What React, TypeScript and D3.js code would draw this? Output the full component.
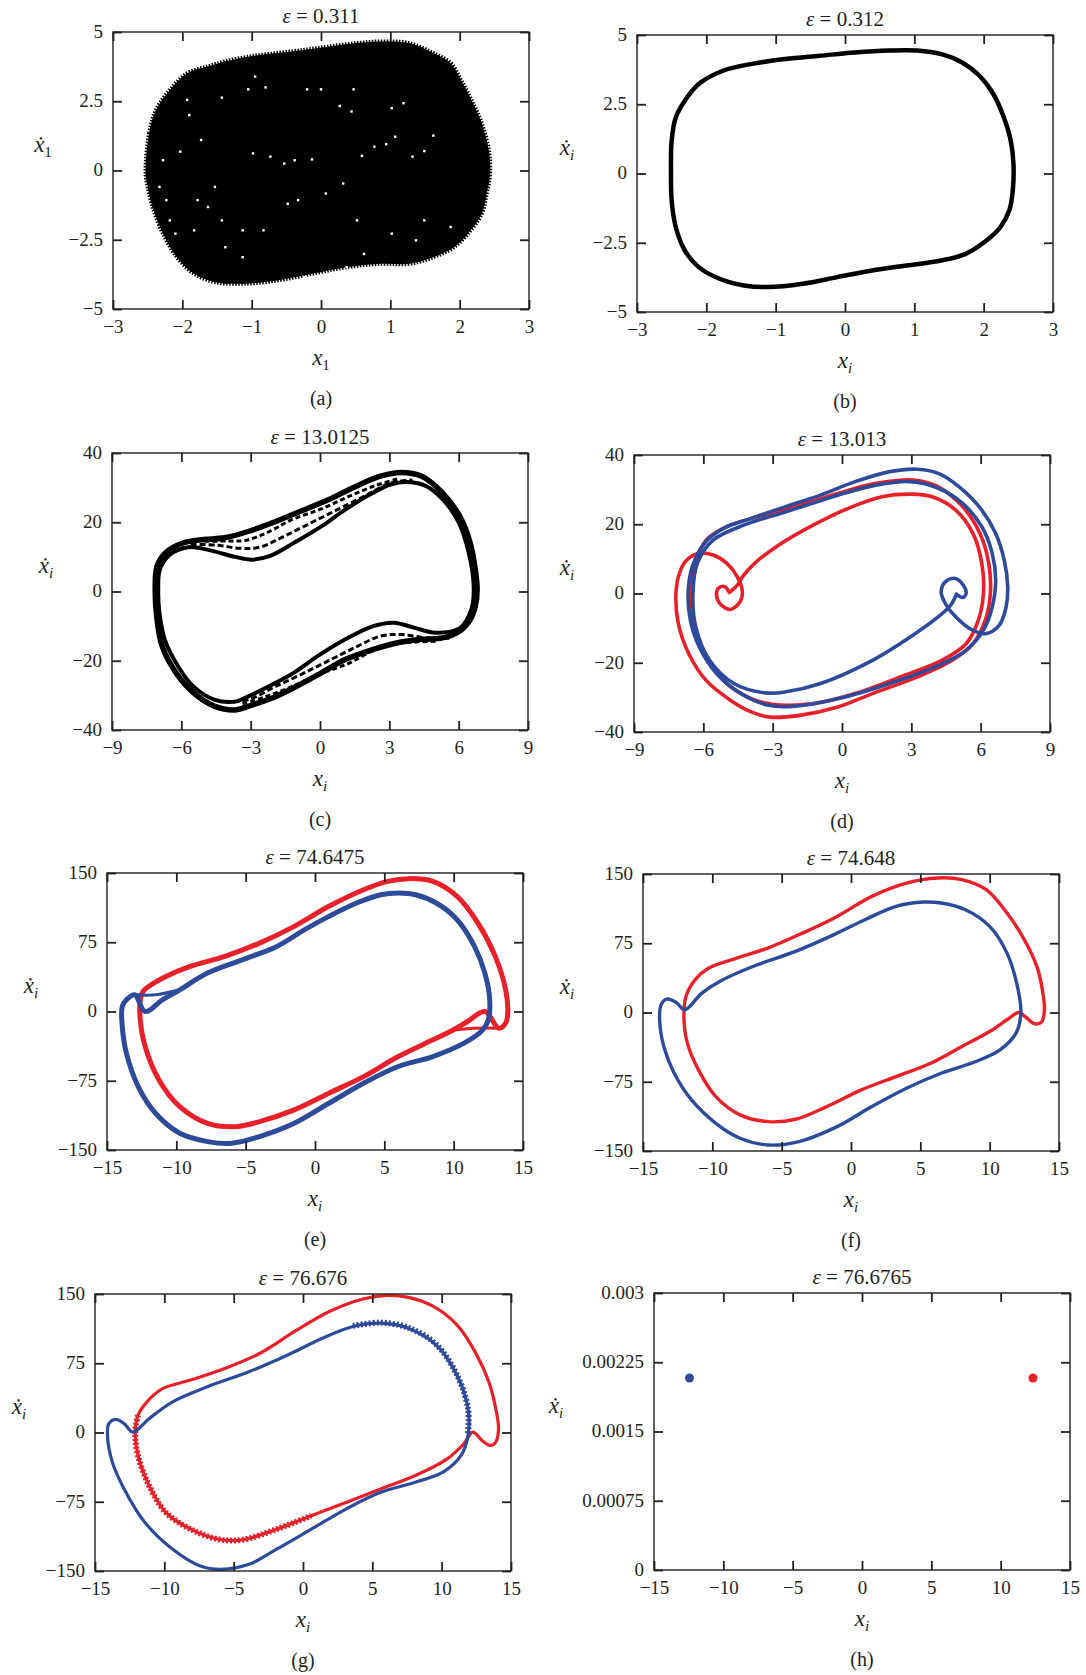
import { useEffect, useRef } from "react";
import * as d3 from "d3";

type Pt = [number, number];

const RED = "#e8202a";
const BLUE = "#2e4a9a";
const INK = "#231f20";
const FONT = "'Liberation Serif', 'Times New Roman', serif";

const W = 416;
const H = 277;

// tick values
const xTicksAB = [-3, -2, -1, 0, 1, 2, 3];
const yTicksAB = [-5, -2.5, 0, 2.5, 5];
const xTicksCD = [-9, -6, -3, 0, 3, 6, 9];
const yTicksCD = [-40, -20, 0, 20, 40];
const xTicksEH = [-15, -10, -5, 0, 5, 10, 15];
const yTicksEG = [-150, -75, 0, 75, 150];
const yTicksH = [0, 0.00075, 0.0015, 0.00225, 0.003];

const epsilons = ["0.311", "0.312", "13.0125", "13.013", "74.6475", "74.648", "76.676", "76.6765"];
const letters = ["a", "b", "c", "d", "e", "f", "g", "h"];

// (a) outline of the chaotic cloud
const blobA: Pt[] = [
  [-2.53, -0.11], [-2.48, 1.34], [-2.38, 2.19], [-2.18, 2.91], [-1.93, 3.51], [-1.63, 3.76],
  [-1.38, 3.94], [-1.03, 4.12], [-0.63, 4.24], [-0.23, 4.36], [0.12, 4.48], [0.52, 4.6],
  [0.87, 4.66], [1.27, 4.6], [1.62, 4.24], [1.87, 3.88], [2.02, 3.27], [2.17, 2.55],
  [2.32, 1.7], [2.42, 0.74], [2.44, -0.11], [2.39, -0.83], [2.32, -1.56], [2.12, -2.28],
  [1.92, -2.77], [1.62, -3.13], [1.27, -3.37], [0.87, -3.37], [0.37, -3.49], [-0.13, -3.73],
  [-0.63, -3.97], [-1.13, -4.09], [-1.53, -4.03], [-1.83, -3.73], [-2.08, -3.13], [-2.28, -2.28],
  [-2.43, -1.32], [-2.5, -0.59],
];
// white gaps inside the cloud
const speckA: Pt[] = [
  [-0.95, 3.39], [-1.05, 2.93], [-0.8, 3.0], [-1.43, 2.63], [-1.93, 2.55], [-0.2, 2.93],
  [0.0, 2.93], [0.47, 2.93], [1.19, 2.43], [1.02, 2.25], [0.44, 2.13], [0.27, 2.33],
  [-1.9, 2.0], [-1.73, 1.1], [-2.03, 0.68], [-0.98, 0.62], [-0.73, 0.5], [-0.38, 0.37],
  [-0.13, 0.4], [-0.53, 0.25], [0.59, 0.53], [0.77, 0.86], [0.94, 0.95], [1.07, 1.22],
  [1.62, 1.26], [1.49, 0.7], [1.32, 0.5], [-1.78, -1.07], [-1.63, -1.32], [-1.43, -1.8],
  [-2.18, -1.8], [-2.1, -2.28], [-1.83, -2.16], [-1.13, -2.16], [-0.83, -2.16], [-0.48, -1.2],
  [-0.33, -1.07], [0.07, -0.83], [0.32, -0.47], [0.52, -1.8], [1.02, -2.28], [1.37, -2.52],
  [1.49, -1.8], [1.87, -2.04], [-1.38, -2.77], [-1.13, -3.13], [-0.23, -3.85], [0.37, -3.49],
  [0.62, -3.01], [-2.28, 0.37], [-2.33, -0.59], [-2.23, -1.07], [-1.53, -0.59],
];

// (b) limit cycle
const loopB: Pt[] = [
  [-2.51, -0.01], [-2.5, 1.19], [-2.44, 2.03], [-2.31, 2.63], [-2.11, 3.23], [-1.76, 3.71],
  [-1.36, 3.95], [-0.86, 4.13], [-0.36, 4.25], [0.14, 4.37], [0.64, 4.44], [1.04, 4.44],
  [1.39, 4.31], [1.69, 4.01], [1.94, 3.53], [2.14, 2.87], [2.29, 2.03], [2.39, 1.19],
  [2.43, 0.35], [2.42, -0.61], [2.37, -1.33], [2.24, -1.94], [2.04, -2.42], [1.74, -2.9],
  [1.39, -3.14], [0.89, -3.32], [0.39, -3.5], [-0.11, -3.74], [-0.61, -3.98], [-1.11, -4.1],
  [-1.46, -4.04], [-1.81, -3.8], [-2.11, -3.38], [-2.31, -2.78], [-2.44, -1.94], [-2.5, -0.98],
];

// (c) quasi-periodic band
const outerC: Pt[] = [
  [-7.13, 0], [-7.05, 7.3], [-6.68, 11.2], [-5.93, 14.0], [-5.03, 15.0], [-4.13, 15.5],
  [-3.08, 17.4], [-1.89, 20.3], [-0.84, 23.2], [0.36, 26.5], [1.56, 30.4], [2.61, 33.3],
  [3.5, 34.4], [4.4, 33.3], [5.3, 28.5], [6.05, 21.7], [6.5, 14.0], [6.72, 6.3], [6.8, 0.6],
  [6.72, -4.2], [6.5, -8.1], [6.05, -11.4], [5.3, -13.4], [4.4, -13.8], [3.36, -14.8],
  [2.31, -16.7], [1.11, -19.6], [0.06, -23.5], [-0.99, -27.3], [-2.04, -30.7], [-3.08, -33.1],
  [-3.68, -34.2], [-4.58, -33.1], [-5.48, -29.2], [-6.23, -23.5], [-6.83, -15.8], [-7.05, -8.1],
];
const innerC: Pt[] = [
  [-7.0, 0], [-6.93, 6.3], [-6.5, 10.6], [-5.7, 12.8], [-4.58, 11.6], [-3.68, 10.0],
  [-2.94, 9.2], [-2.19, 10.2], [-1.14, 14.0], [0.06, 18.8], [1.11, 23.7], [2.16, 28.0],
  [3.05, 30.9], [3.8, 31.6], [4.6, 30.4], [5.35, 26.3], [6.0, 20.0], [6.42, 11.6], [6.65, 1.5],
  [6.55, -5.2], [6.05, -10.6], [5.0, -11.9], [4.1, -10.5], [3.2, -9.0], [2.3, -10.0],
  [1.1, -13.8], [-0.09, -18.6], [-1.14, -23.5], [-2.19, -27.3], [-3.08, -30.2], [-3.68, -31.8],
  [-4.58, -31.2], [-5.48, -27.4], [-6.15, -21.5], [-6.72, -13.8], [-6.95, -6.1],
];
const strandTop1C: Pt[] = [
  [-5.6, 13.6], [-4.5, 13.4], [-3.5, 12.5], [-2.6, 12.8], [-1.6, 15.8], [-0.4, 19.8],
  [0.8, 23.8], [2.0, 27.8], [3.0, 31.2], [4.0, 32.2],
];
const strandTop2C: Pt[] = [
  [-5.0, 14.5], [-4.0, 14.6], [-3.2, 14.8], [-2.2, 17.3], [-1.2, 20.8], [0.0, 23.7],
  [1.2, 27.3], [2.4, 30.6], [3.4, 32.6],
];
const strandBot1C: Pt[] = [
  [5.6, -13.5], [4.5, -13.3], [3.5, -12.4], [2.6, -12.9], [1.6, -15.9], [0.4, -19.9],
  [-0.8, -23.9], [-2.0, -27.7], [-3.0, -31.0], [-4.0, -32.1],
];
const strandBot2C: Pt[] = [
  [5.0, -14.4], [4.0, -14.6], [3.2, -14.9], [2.2, -17.4], [1.2, -20.9], [0.0, -23.8],
  [-1.2, -27.4], [-2.4, -30.5], [-3.4, -32.5],
];

// (d) two symmetric orbits with spirals
const blueD: Pt[] = [
  [4.95, -0.19], [5.22, -1.16], [5.37, 0.0], [5.25, 2.41], [4.89, 4.34], [4.47, 3.37],
  [4.29, 0.48], [4.47, -2.89], [4.92, -6.75], [5.52, -10.1], [6.2, -11.6], [6.8, -9.2],
  [7.1, -3.9], [7.17, 1.93], [7.02, 9.64], [6.65, 17.35], [6.05, 24.1], [5.07, 30.8],
  [4.17, 34.7], [3.27, 35.9], [2.07, 35.2], [0.57, 32.3], [-0.93, 28.4], [-2.43, 25.1],
  [-3.93, 21.7], [-5.13, 18.8], [-5.96, 14.5], [-6.48, 7.7], [-6.66, 0.0], [-6.56, -7.7],
  [-6.18, -15.4], [-5.43, -23.1], [-4.38, -28.9], [-3.18, -32.3], [-2.13, -32.6],
  [-0.18, -30.4], [2.07, -26.0], [4.02, -21.2], [5.37, -16.4], [6.12, -10.6], [6.5, -3.9],
  [6.65, 3.9], [6.5, 11.6], [6.05, 19.3], [5.22, 26.0], [4.17, 30.4], [2.97, 32.3],
  [1.47, 31.3], [-0.18, 28.4], [-2.43, 23.6], [-4.23, 19.8], [-5.58, 15.4], [-6.26, 8.7],
  [-6.45, 0.0], [-6.33, -9.6], [-5.73, -19.3], [-4.68, -26.0], [-3.33, -28.7], [-2.43, -28.4],
  [-0.93, -26.0], [1.32, -19.3], [2.97, -12.5], [4.17, -6.7], [4.7, -3.4], [4.95, -0.2],
];
const redD: Pt[] = [
  [-4.88, 0.29], [-5.06, 1.93], [-5.31, 1.74], [-5.43, 0.0], [-5.28, -2.9], [-4.83, -4.6],
  [-4.41, -2.4], [-4.31, 0.48], [-4.53, 4.8], [-4.98, 8.7], [-5.58, 11.1], [-6.18, 11.6],
  [-6.78, 9.2], [-7.08, 4.8], [-7.19, -1.0], [-7.08, -8.7], [-6.63, -17.4], [-5.88, -25.1],
  [-4.83, -30.8], [-3.93, -34.2], [-3.11, -35.7], [-1.83, -35.2], [-0.18, -32.8], [1.32, -28.9],
  [3.27, -24.1], [4.77, -19.3], [5.67, -14.5], [6.2, -7.7], [6.42, 0.0], [6.35, 8.7],
  [5.97, 17.3], [5.22, 25.1], [4.17, 30.8], [3.12, 32.8], [1.47, 31.8], [-0.18, 28.9],
  [-1.83, 25.5], [-3.63, 22.2], [-4.98, 19.3], [-5.88, 15.4], [-6.33, 8.7], [-6.56, 0.0],
  [-6.45, -7.7], [-6.03, -16.4], [-5.13, -25.1], [-3.93, -30.4], [-3.03, -32.0], [-1.23, -31.8],
  [0.57, -28.9], [2.52, -24.1], [4.32, -19.3], [5.37, -14.5], [5.9, -7.7], [6.12, 0.0],
  [6.05, 8.7], [5.67, 17.3], [4.92, 24.1], [3.87, 28.0], [2.97, 28.7], [1.77, 28.0],
  [0.27, 24.6], [-1.23, 19.8], [-2.73, 14.0], [-3.78, 8.7], [-4.31, 4.8], [-4.53, 2.4],
  [-4.88, 0.29],
];

// (e)
const blueE: Pt[] = [
  [-9.75, 23.5], [-7.75, 41.6], [-5.25, 56.0], [-2.75, 70.5], [-0.75, 88.6], [1.0, 103.0],
  [3.0, 117.5], [4.75, 126.5], [6.0, 128.3], [7.25, 126.5], [8.75, 117.5], [10.25, 99.4],
  [11.5, 70.5], [12.25, 41.6], [12.6, 12.7], [12.5, -9.0], [12.1, -19.9], [10.75, -34.3],
  [8.5, -48.8], [6.0, -59.6], [3.5, -77.7], [1.0, -99.4], [-1.5, -121.1], [-4.0, -135.5],
  [-6.0, -142.7], [-7.75, -140.9], [-9.75, -131.9], [-11.5, -110.2], [-12.75, -81.3],
  [-13.6, -45.2], [-13.9, -16.2], [-13.9, 5.4], [-13.6, 12.7], [-13.0, 18.1], [-12.25, 0.0],
  [-11.0, 12.7],
];
const blueLapE: Pt[] = [[-13.0, 18.1], [-11.5, 18.1], [-10.0, 22.8]];
const redE: Pt[] = [
  [-12.0, 27.1], [-10.75, 38.0], [-9.0, 48.8], [-6.5, 59.7], [-4.0, 74.1], [-1.5, 92.2],
  [1.0, 113.9], [3.5, 131.9], [5.25, 141.0], [6.75, 143.9], [8.5, 141.0], [10.25, 124.7],
  [11.75, 95.8], [13.0, 59.7], [13.75, 23.5], [13.9, -1.8], [13.75, -12.6], [13.25, -18.1],
  [12.25, 0.0], [11.0, -10.8], [9.75, -21.7], [8.5, -30.7], [6.0, -48.8], [3.5, -70.5],
  [1.0, -88.5], [-1.5, -106.6], [-4.0, -119.2], [-5.75, -124.7], [-7.75, -121.1],
  [-9.75, -103.0], [-11.25, -74.1], [-12.25, -37.9], [-12.6, -9.0], [-12.6, 12.7], [-12.4, 21.7],
];
const redLapE: Pt[] = [[13.25, -18.1], [11.5, -18.1], [10.25, -19.9]];

// (f)
const blueF: Pt[] = [
  [-12.0, 2.9], [-12.6, 10.9], [-13.3, 14.5], [-13.7, 8.3], [-13.8, -7.9], [-13.5, -36.8],
  [-12.75, -65.8], [-11.5, -94.7], [-9.75, -120.0], [-8.0, -136.2], [-6.0, -143.5],
  [-3.75, -139.8], [-1.0, -123.6], [1.5, -101.9], [4.0, -82.0], [6.5, -65.8], [9.0, -53.1],
  [10.75, -40.5], [11.9, -22.4], [12.25, -0.7], [12.0, 28.2], [11.25, 64.3], [10.0, 93.3],
  [8.25, 111.3], [6.5, 118.6], [5.25, 119.6], [3.25, 115.0], [1.0, 100.5], [-1.5, 82.4],
  [-4.0, 66.2], [-6.75, 51.7], [-9.25, 35.4], [-10.75, 21.0],
];
const redF: Pt[] = [
  [12.1, 0.0], [12.6, -5.1], [13.25, -12.3], [13.75, -10.1], [13.95, 2.9], [13.8, 24.6],
  [13.4, 49.9], [12.5, 78.8], [11.25, 107.7], [9.75, 133.0], [8.0, 143.9], [6.25, 145.7],
  [4.0, 140.2], [1.5, 125.8], [-1.0, 104.1], [-3.5, 86.0], [-6.0, 69.8], [-8.25, 58.9],
  [-10.25, 48.1], [-11.25, 35.4], [-11.9, 17.4], [-12.05, -4.3], [-11.8, -33.2],
  [-11.0, -62.1], [-9.75, -91.1], [-8.0, -110.9], [-6.0, -118.2], [-4.0, -115.6],
  [-1.75, -101.9], [0.75, -83.8], [3.25, -69.4], [5.75, -54.9], [8.0, -36.8], [10.0, -20.6],
  [11.25, -7.9],
];

// (g)
const blueG: Pt[] = [
  [-12.25, 0.5], [-12.9, 9.6], [-13.5, 14.3], [-14.0, 9.6], [-14.1, -3.1], [-13.75, -32.1],
  [-12.9, -61.1], [-11.4, -97.4], [-9.4, -126.4], [-7.4, -144.6], [-5.9, -148.2],
  [-3.9, -142.8], [-1.9, -126.4], [0.6, -104.7], [3.1, -82.9], [5.6, -64.8], [8.1, -53.9],
  [10.1, -43.0], [11.4, -24.9], [11.9, -3.1], [11.9, 25.9], [11.1, 62.2], [9.6, 94.9],
  [7.6, 113.0], [5.6, 118.4], [3.6, 114.8], [1.4, 102.1], [-1.1, 84.0], [-3.9, 65.8],
  [-6.9, 49.5], [-9.4, 33.2], [-11.1, 15.0],
];
const blueScatterG: Pt[] = [
  [3.6, 115.5], [5.6, 119.0], [7.6, 113.5], [9.6, 95.5], [11.1, 62.5], [11.9, 26.0], [11.9, -3.0],
];
const redG: Pt[] = [
  [12.25, 0.5], [12.9, -8.5], [13.5, -14.0], [13.9, -10.4], [14.1, 4.2], [13.9, 25.9],
  [13.4, 54.9], [12.4, 87.6], [11.1, 116.6], [9.4, 136.6], [7.6, 146.4], [6.1, 148.5],
  [4.4, 144.9], [1.9, 131.1], [-0.6, 109.4], [-3.1, 85.8], [-5.6, 69.5], [-8.1, 56.8],
  [-10.1, 47.7], [-11.25, 33.2], [-11.9, 18.7], [-12.1, 0.5], [-11.9, -24.9], [-11.1, -57.5],
  [-9.9, -86.5], [-8.1, -104.7], [-6.1, -115.6], [-4.4, -116.3], [-1.9, -104.7], [0.6, -90.2],
  [3.1, -75.7], [5.6, -61.1], [8.1, -46.6], [10.4, -28.5], [11.6, -12.2],
];
const redScatterG: Pt[] = [
  [-11.9, 18.7], [-12.1, 0.5], [-11.9, -24.9], [-11.1, -57.5], [-9.9, -86.5], [-8.1, -104.7],
  [-6.1, -115.6], [-4.4, -116.3], [-1.9, -104.7], [0.6, -90.2],
];

// (h) equilibria
const bluePointH: Pt[] = [[-12.44, 0.00208]];
const redPointH: Pt[] = [[12.33, 0.00208]];

type Series = {
  pts: Pt[];
  color: string;
  width?: number;
  closed?: boolean;
  fill?: boolean;
  dash?: string;
  dot?: number;
  square?: number;
};

type Panel = {
  left: number;
  top: number;
  xd: [number, number];
  yd: [number, number];
  xt: number[];
  yt: number[];
  sub: string;
  ylx: number;
  series: Series[];
};

const panels: Panel[] = [
  {
    left: 113, top: 32, xd: [-3, 3], yd: [-5, 5], xt: xTicksAB, yt: yTicksAB, sub: "1", ylx: -70,
    series: [
      { pts: blobA, color: "#000", fill: true, closed: true, width: 4, dash: "1.5 1.5" },
      { pts: speckA, color: "#fff", square: 2.4 },
    ],
  },
  {
    left: 637, top: 35, xd: [-3, 3], yd: [-5, 5], xt: xTicksAB, yt: yTicksAB, sub: "i", ylx: -70,
    series: [{ pts: loopB, color: "#000", width: 4.5, closed: true }],
  },
  {
    left: 112, top: 453, xd: [-9, 9], yd: [-40, 40], xt: xTicksCD, yt: yTicksCD, sub: "i", ylx: -66,
    series: [
      { pts: outerC, color: "#000", width: 5.5, closed: true },
      { pts: innerC, color: "#000", width: 4, closed: true },
      { pts: strandTop1C, color: "#000", width: 3, dash: "6 3" },
      { pts: strandTop2C, color: "#000", width: 3, dash: "5 3" },
      { pts: strandBot1C, color: "#000", width: 3, dash: "6 3" },
      { pts: strandBot2C, color: "#000", width: 3, dash: "5 3" },
    ],
  },
  {
    left: 634, top: 455, xd: [-9, 9], yd: [-40, 40], xt: xTicksCD, yt: yTicksCD, sub: "i", ylx: -67,
    series: [
      { pts: redD, color: RED, width: 3.6 },
      { pts: blueD, color: BLUE, width: 3.6 },
    ],
  },
  {
    left: 107, top: 873, xd: [-15, 15], yd: [-150, 150], xt: xTicksEH, yt: yTicksEG, sub: "i", ylx: -76,
    series: [
      { pts: redE, color: RED, width: 5, closed: true },
      { pts: redLapE, color: RED, width: 3 },
      { pts: blueE, color: BLUE, width: 5, closed: true },
      { pts: blueLapE, color: BLUE, width: 3 },
    ],
  },
  {
    left: 643, top: 874, xd: [-15, 15], yd: [-150, 150], xt: xTicksEH, yt: yTicksEG, sub: "i", ylx: -76,
    series: [
      { pts: redF, color: RED, width: 3.4, closed: true },
      { pts: blueF, color: BLUE, width: 3.4, closed: true },
    ],
  },
  {
    left: 95, top: 1294, xd: [-15, 15], yd: [-150, 150], xt: xTicksEH, yt: yTicksEG, sub: "i", ylx: -76,
    series: [
      { pts: redG, color: RED, width: 3.2, closed: true },
      { pts: redScatterG, color: RED, width: 6, dash: "2 2" },
      { pts: blueG, color: BLUE, width: 3.2, closed: true },
      { pts: blueScatterG, color: BLUE, width: 6, dash: "2 2" },
    ],
  },
  {
    left: 654, top: 1293, xd: [-15, 15], yd: [0, 0.003], xt: xTicksEH, yt: yTicksH, sub: "i", ylx: -98,
    series: [
      { pts: bluePointH, color: BLUE, dot: 4.5 },
      { pts: redPointH, color: RED, dot: 4.5 },
    ],
  },
];

const fmt = (v: d3.NumberValue) => String(v).replace("-", "\u2212");

function drawPanel(
  svg: d3.Selection<SVGSVGElement, unknown, null, undefined>,
  p: Panel,
  idx: number
) {
  const g = svg.append("g").attr("transform", `translate(${p.left},${p.top})`);
  const x = d3.scaleLinear().domain(p.xd).range([0, W]);
  const y = d3.scaleLinear().domain(p.yd).range([H, 0]);
  const line = d3.line<Pt>().x((d) => x(d[0])).y((d) => y(d[1]));

  p.series.forEach((s) => {
    if (s.dot) {
      g.selectAll(null)
        .data(s.pts)
        .join("circle")
        .attr("cx", (d) => x(d[0]))
        .attr("cy", (d) => y(d[1]))
        .attr("r", s.dot)
        .attr("fill", s.color);
      return;
    }
    if (s.square) {
      const sz = s.square;
      g.selectAll(null)
        .data(s.pts)
        .join("rect")
        .attr("x", (d) => x(d[0]) - sz / 2)
        .attr("y", (d) => y(d[1]) - sz / 2)
        .attr("width", sz)
        .attr("height", sz)
        .attr("fill", s.color);
      return;
    }
    const curve = s.closed ? d3.curveCatmullRomClosed.alpha(0.5) : d3.curveCatmullRom.alpha(0.5);
    g.append("path")
      .attr("d", line.curve(curve)(s.pts))
      .attr("fill", s.fill ? s.color : "none")
      .attr("stroke", s.color)
      .attr("stroke-width", s.width ?? 3)
      .attr("stroke-dasharray", s.dash ?? null)
      .attr("stroke-linejoin", "round")
      .attr("stroke-linecap", s.dash ? "butt" : "round");
  });

  // frame
  g.append("rect")
    .attr("width", W)
    .attr("height", H)
    .attr("fill", "none")
    .attr("stroke", INK)
    .attr("stroke-width", 1.4);

  const styleAxis = (a: d3.Selection<SVGGElement, unknown, null, undefined>) => {
    a.select(".domain").remove();
    a.selectAll("line").attr("stroke", INK).attr("stroke-width", 1.8);
    a.selectAll("text").attr("fill", INK).style("font-family", FONT).style("font-size", "19px");
  };

  g.append("g")
    .attr("transform", `translate(0,${H})`)
    .call(d3.axisBottom(x).tickValues(p.xt).tickSize(-9).tickPadding(11).tickFormat(fmt))
    .call(styleAxis);
  g.append("g")
    .call(d3.axisTop(x).tickValues(p.xt).tickSize(-9).tickFormat(() => ""))
    .call(styleAxis);
  g.append("g")
    .call(d3.axisLeft(y).tickValues(p.yt).tickSize(-9).tickPadding(10).tickFormat(fmt))
    .call(styleAxis)
    .call((a) => a.selectAll("text").attr("dy", "0.28em"));
  g.append("g")
    .attr("transform", `translate(${W},0)`)
    .call(d3.axisRight(y).tickValues(p.yt).tickSize(-9).tickFormat(() => ""))
    .call(styleAxis);

  const text = (tx: number, ty: number, size: number) =>
    g.append("text")
      .attr("x", tx)
      .attr("y", ty)
      .attr("text-anchor", "middle")
      .attr("fill", INK)
      .style("font-family", FONT)
      .style("font-size", `${size}px`);

  // title
  const t = text(W / 2, -9, 21);
  t.append("tspan").attr("font-style", "italic").text("\u03b5");
  t.append("tspan").text(` = ${epsilons[idx]}`);

  // x label
  const xl = text(W / 2, H + 56, 23);
  xl.append("tspan").attr("font-style", "italic").text("x");
  xl.append("tspan")
    .attr("font-size", "15px")
    .attr("dy", 5)
    .attr("font-style", p.sub === "i" ? "italic" : "normal")
    .text(p.sub);

  // y label (x with dot)
  const yl = text(p.ylx, 120, 23);
  yl.append("tspan").attr("font-style", "italic").text("\u1e8b");
  yl.append("tspan")
    .attr("font-size", "15px")
    .attr("dy", 5)
    .attr("font-style", p.sub === "i" ? "italic" : "normal")
    .text(p.sub);

  // panel letter
  text(W / 2, H + 96, 20).text(`(${letters[idx]})`);
}

export default function App() {
  const svgRef = useRef<SVGSVGElement | null>(null);

  useEffect(() => {
    if (!svgRef.current) return;
    const svg = d3.select(svgRef.current);
    svg.selectAll("*").remove();
    panels.forEach((p, i) => drawPanel(svg, p, i));
  }, []);

  return (
    <svg
      ref={svgRef}
      width={1086}
      height={1675}
      style={{ position: "absolute", left: 0, top: 0, background: "#fff" }}
    />
  );
}
